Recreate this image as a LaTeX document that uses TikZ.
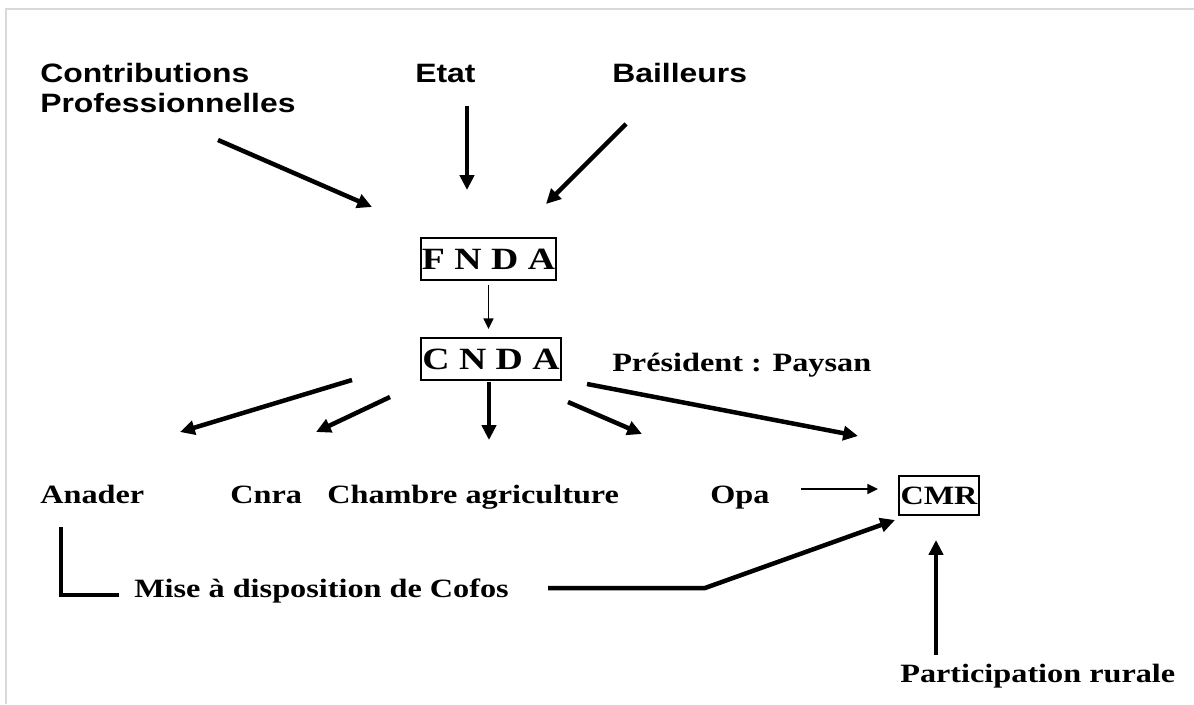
\documentclass[tikz,border=0pt]{standalone}
\usepackage{fontspec}
\setmainfont{Liberation Serif}[FakeStretch=1.22]
\newfontfamily\headfont{Liberation Sans}[FakeStretch=1.2]
\usetikzlibrary{arrows.meta}
\tikzset{>=latex,
  headtxt/.style={anchor=base west,inner sep=0pt,align=left,
    font=\headfont\bfseries\fontsize{18.9}{21.3}\selectfont},
  txt/.style={anchor=base west,inner sep=0pt,
    font=\bfseries\fontsize{18.8}{22}\selectfont},
  fund/.style={anchor=center,draw,line width=0.8pt,inner sep=0pt,
    minimum height=1.05cm,font=\bfseries\fontsize{22}{24}\selectfont},
  bigarrow/.style={line width=3.2pt,-{Triangle[length=10.5pt,width=10pt]}},
  smallarrow/.style={line width=1.3pt,-{Triangle[length=7.5pt,width=7pt]}},
  bar/.style={line width=3.4pt}}

\begin{document}
\begin{tikzpicture}[x=0.025cm,y=-0.025cm]
    \useasboundingbox (0,0) rectangle (1194,704);
    \draw [gray!30,line width=1.5pt] (6,704) -- (6,9) -- (1194,9);

    % sources
    \node [headtxt] (contrib) at (40,112) {Contributions\\Professionnelles};
    \node [headtxt] (etat) at (415,82) {Etat};
    \node [headtxt] (bailleurs) at (612,82) {Bailleurs};

    \coordinate (c0) at (218,140);
    \coordinate (c1) at (372,207);
    \coordinate (e0) at (467,106);
    \coordinate (e1) at (467,190);
    \coordinate (b0) at (626,124);
    \coordinate (b1) at (546,204);

    \draw [bigarrow] (c0) -- (c1);
    \draw [bigarrow] (e0) -- (e1);
    \draw [bigarrow] (b0) -- (b1);

    % fonds
    \node [fund,minimum width=3.375cm] (fnda) at (488.5,259) {F N D A};
    \node [fund,minimum width=3.5cm] (cnda) at (491,359) {C N D A};
    \node [txt] (president) at (612,371) {Président : Paysan};

    \draw [smallarrow,shorten <=3pt,shorten >=6pt] (fnda) -- (fnda |- cnda.north);

    % structures
    \node [txt] (anader) at (40,503) {Anader};
    \node [txt] (cnra) at (230,503) {Cnra};
    \node [txt] (chambre) at (327,503) {Chambre agriculture};
    \node [txt] (opa) at (710,503) {Opa};
    \node [fund,minimum width=2cm,minimum height=0.975cm,
    font=\bfseries\fontsize{18.8}{22}\selectfont] (cmr) at (939,495.5) {CMR};

    \coordinate (a0) at (352,380);
    \coordinate (a1) at (180,432);
    \coordinate (n0) at (390,397);
    \coordinate (n1) at (316,432);
    \coordinate (h0) at (489,382);
    \coordinate (h1) at (489,440);
    \coordinate (o0) at (568,402);
    \coordinate (o1) at (642,434);
    \coordinate (m0) at (587,384);
    \coordinate (m1) at (858,436);

    \draw [bigarrow] (a0) -- (a1);
    \draw [bigarrow] (n0) -- (n1);
    \draw [bigarrow] (h0) -- (h1);
    \draw [bigarrow] (o0) -- (o1);
    \draw [bigarrow] (m0) -- (m1);

    \coordinate (p0) at (801,489);
    \coordinate (p1) at (878,489);
    \draw [smallarrow] (p0) -- (p1);

    % cofos
    \node [txt] (cofos) at (134,597) {Mise à disposition de Cofos};
    \draw [bar] (61,527) -- (61,595) -- (119,595);

    \coordinate (f0) at (548,588);
    \coordinate (f1) at (705,588);
    \coordinate (f2) at (895,520);
    \draw [bigarrow] (f0) -- (f1) -- (f2);

    \node [txt] (participation) at (900,682) {Participation rurale};
    \coordinate (r0) at (936,655);
    \coordinate (r1) at (936,540);
    \draw [bigarrow] (r0) -- (r1);

  \end{tikzpicture}
\end{document}
